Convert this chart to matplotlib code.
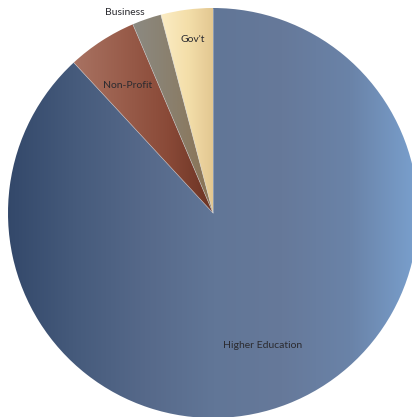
import numpy as np
import matplotlib
matplotlib.use("Agg")
import matplotlib.pyplot as plt
from matplotlib.colors import LinearSegmentedColormap

# sector shares (percent), clockwise from 12 o'clock
sectors = ["Higher Education", "Non-Profit", "Business", "Gov't"]
shares = [88.2, 5.5, 2.3, 4.1]

# horizontal gradient stops for each slice (left -> right)
gradients = [
    ["#33486a", "#465b7c", "#56698a", "#617697", "#66799a", "#6a83a8", "#7aa1cf"],
    ["#a87262", "#9a5e4c", "#8a4a38", "#6a3222"],
    ["#8c8a82", "#8a7f6c", "#8a7252"],
    ["#fbecc4", "#f4dfaa", "#e2c690"],
]

plt.rcParams["font.family"] = ["Lato", "DejaVu Sans"]

fig = plt.figure(figsize=(4.12, 4.17), dpi=100)
ax = fig.add_axes([0, 0, 1, 1])

wedges, _ = ax.pie(shares, startangle=90, counterclock=False, radius=1.0,
                   wedgeprops={"linewidth": 0})

for wedge, stops in zip(wedges, gradients):
    wedge.set_facecolor("none")
    cmap = LinearSegmentedColormap.from_list("g", stops)
    grad = np.linspace(0, 1, 256).reshape(1, -1)
    # bounding box of wedge in data coords
    verts = wedge.get_path().vertices
    x0, x1 = verts[:, 0].min(), verts[:, 0].max()
    y0, y1 = verts[:, 1].min(), verts[:, 1].max()
    im = ax.imshow(grad, cmap=cmap, extent=[x0, x1, y0, y1], aspect="auto",
                   interpolation="bilinear", zorder=1)
    im.set_clip_path(wedge)

# faint radial separators between slices
for wedge in wedges:
    t = np.deg2rad(wedge.theta1)
    ax.plot([0, np.cos(t)], [0, np.sin(t)], color="#d0d4da", linewidth=0.5,
            alpha=0.6, zorder=2, solid_capstyle="butt")

ax.text(0.24, -0.645, "Higher Education", fontsize=7.5, color="#2b2b30",
        ha="center", va="center", zorder=3)
ax.text(-0.415, 0.624, "Non-Profit", fontsize=7.5, color="#2b2b30",
        ha="center", va="center", zorder=3)
ax.text(-0.10, 0.844, "Gov't", fontsize=7.5, color="#2b2b30",
        ha="center", va="center", zorder=3)
ax.text(-0.43, 0.976, "Business", fontsize=7.5, color="#2b2b30",
        ha="center", va="center", zorder=3)

ax.set_xlim(-213 / 205, 199 / 205)
ax.set_ylim(-204 / 205, 213 / 205)
ax.set_aspect("auto")
ax.axis("off")

fig.savefig("out.png", dpi=100, facecolor="white")
